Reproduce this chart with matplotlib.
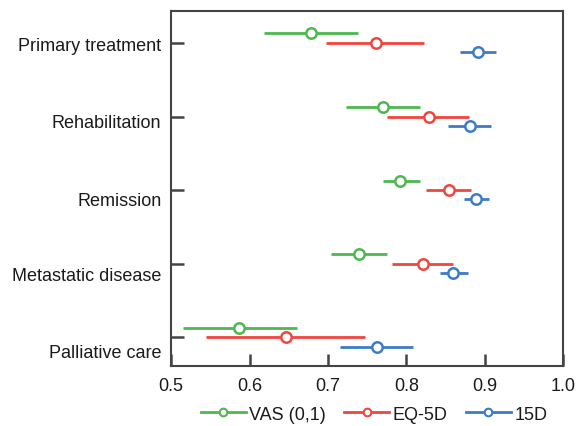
import numpy as np
import matplotlib
matplotlib.use('Agg')
import matplotlib.pyplot as plt
import matplotlib.transforms as mtransforms
from matplotlib.lines import Line2D

plt.rcParams['font.family'] = ['Liberation Sans', 'DejaVu Sans']

categories = ['Primary treatment', 'Rehabilitation', 'Remission',
              'Metastatic disease', 'Palliative care']

series_names = ['VAS (0,1)', 'EQ-5D', '15D']
colors = ['#4db84d', '#f2453d', '#3d7bc8']

# mean, lower, upper for each category (top to bottom)
vas_mean = [0.679, 0.770, 0.792, 0.739, 0.586]
vas_low = [0.618, 0.723, 0.770, 0.704, 0.515]
vas_high = [0.738, 0.818, 0.818, 0.775, 0.660]

eq5d_mean = [0.761, 0.829, 0.854, 0.821, 0.646]
eq5d_low = [0.698, 0.775, 0.825, 0.782, 0.544]
eq5d_high = [0.823, 0.880, 0.883, 0.859, 0.747]

d15_mean = [0.892, 0.881, 0.889, 0.860, 0.762]
d15_low = [0.869, 0.853, 0.874, 0.843, 0.716]
d15_high = [0.914, 0.908, 0.905, 0.878, 0.808]

means = [vas_mean, eq5d_mean, d15_mean]
lows = [vas_low, eq5d_low, d15_low]
highs = [vas_high, eq5d_high, d15_high]
offsets = [0.13, 0.0, -0.125]

fig = plt.figure(figsize=(5.8, 4.27), dpi=100)
ax = fig.add_axes([0.295, 0.1405, 0.676, 0.8315])

ypos = np.arange(len(categories))[::-1]

for m, lo, hi, off, c, name in zip(means, lows, highs, offsets, colors, series_names):
    m = np.array(m)
    xerr = [m - np.array(lo), np.array(hi) - m]
    ax.errorbar(m, ypos + off, xerr=xerr, fmt='o', color=c, mfc='white',
                mec=c, mew=1.8, ms=7.5, elinewidth=2, capsize=0, label=name)

ax.set_xlim(0.5, 1.0)
ax.set_ylim(-0.39, 4.435)
ax.set_xticks([0.5, 0.6, 0.7, 0.8, 0.9, 1.0])
ax.set_xticklabels(['0.5', '0.6', '0.7', '0.8', '0.9', '1.0'])
ax.set_yticks(ypos)
ax.set_yticklabels(categories)
ax.tick_params(direction='in', length=9, width=1.8, color='#444444',
               labelsize=13, labelcolor='#1a1a1a')
ax.tick_params(axis='y', pad=7)
ax.tick_params(axis='x', pad=8)

# the labels in the original drift slightly below their ticks
label_shift = [1, 4, 8, 10, 13]
for lab, dy in zip(ax.get_yticklabels(), label_shift):
    lab.set_transform(lab.get_transform() +
                      mtransforms.ScaledTranslation(0, -dy / 100, fig.dpi_scale_trans))

for s in ax.spines.values():
    s.set_color('#444444')
    s.set_linewidth(1.5)

handles = [Line2D([0], [0], color=c, lw=2, marker='o', mfc='white', mec=c,
                  mew=1.5, ms=5.5) for c in colors]
fig.legend(handles, series_names, loc='center', ncol=3, frameon=False,
           fontsize=13, bbox_to_anchor=(0.645, 0.028), handlelength=2.5,
           handletextpad=0.2, columnspacing=1.0, labelcolor='#1a1a1a')

fig.savefig('out.png', dpi=100)
